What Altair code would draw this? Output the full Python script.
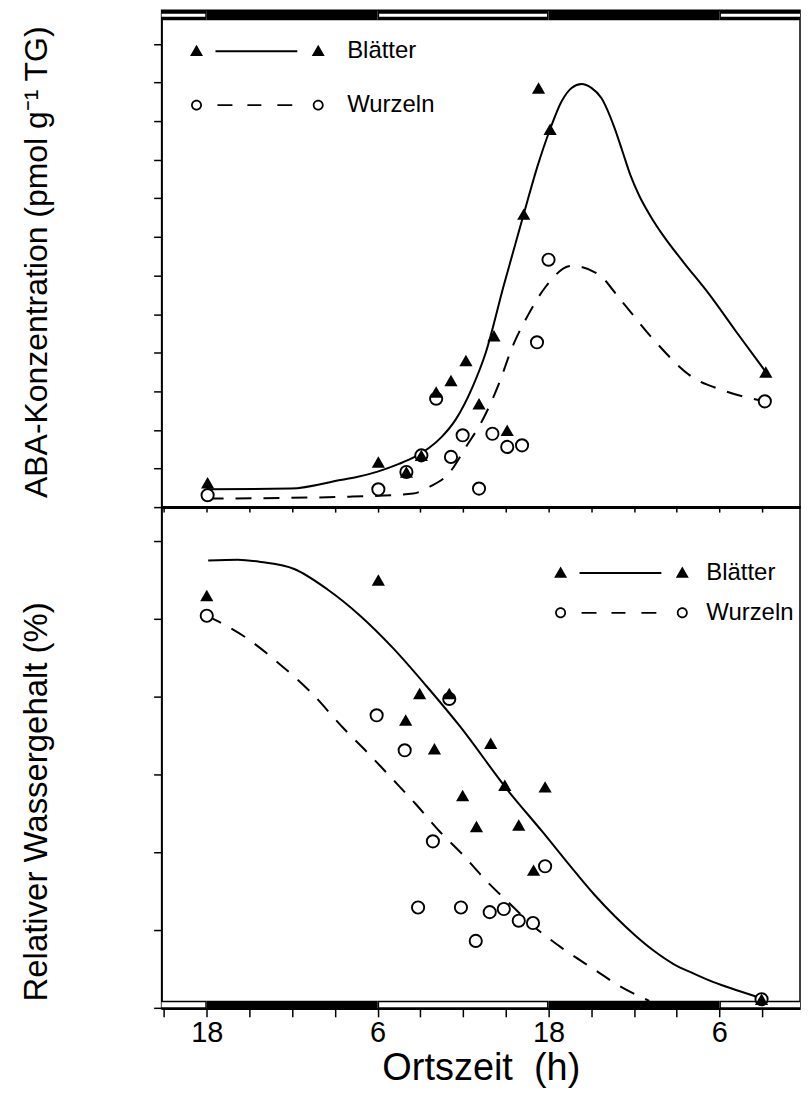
import altair as alt
import pandas as pd

FONT = "Liberation Sans"

# x = hours after 18:00 of the first evening
x_domain = [-3.17, 41.66]
x_ticks = [-3, 0, 3, 6, 9, 12, 15, 18, 21, 24, 27, 30, 33, 36, 39]
x_major = [0, 12, 24, 36]
x_major_labels = ["18", "6", "18", "6"]

period_start = [-4, 0, 12, 24, 36]
period_end = [0, 12, 24, 36, 44]
period_kind = ["Tag", "Nacht", "Tag", "Nacht", "Tag"]

series = ["Blätter", "Wurzeln"]

# ---- top panel: ABA (pmol g-1 TG) ----
aba_ticks = [0, 100, 200, 300, 400, 500, 600, 700, 800, 900, 1000, 1100, 1200]
aba_domain = [0, 1287]
aba_blatt_t = [0.06, 12.05, 14.02, 15.07, 16.11, 17.15, 18.2, 19.12, 20.17, 21.1, 22.26, 23.3, 24.11, 39.26]
aba_blatt_v = [63, 117, 91, 134, 298, 328, 380, 268, 444, 199, 759, 1086, 979, 350]
aba_wurz_t = [0.06, 12.05, 14.02, 15.07, 16.11, 17.15, 17.97, 19.12, 20.06, 21.1, 22.14, 23.19, 24.0, 39.19]
aba_wurz_v = [31, 46, 91, 134, 281, 130, 186, 48, 190, 156, 160, 427, 641, 274]
aba_fit_blatt_t = [0.06, 5.9, 9.38, 10.54, 12.0, 13.5, 14.6, 15.6, 16.5, 17.5, 18.66, 19.59,
                   20.86, 22.26, 23.19, 24.11, 24.93, 25.62, 26.32, 27.01, 27.71, 28.64,
                   29.19, 29.75, 30.38, 31.14, 32.12, 33.51, 35.25, 37.13, 39.26]
aba_fit_blatt_v = [46, 48, 70, 78, 92, 112, 130, 153, 182, 228, 311, 400,
                   575, 759, 879, 979, 1052, 1086, 1096, 1086, 1060, 982,
                   922, 860, 806, 755, 700, 633, 553, 457, 350]
aba_fit_wurz_t = [0.06, 10.05, 14.49, 15.62, 17.02, 18.2, 19.36, 20.52, 21.45, 22.6, 23.76,
                  25.62, 27.47, 29.1, 31.42, 34.09, 36.29, 39.19]
aba_fit_wurz_v = [22, 27, 35, 52, 88, 156, 225, 320, 414, 500, 569,
                  625, 604, 535, 432, 337, 302, 274]

# ---- bottom panel: relative water content (%) ----
rwc_ticks = [40, 50, 60, 70, 80, 90, 100]
rwc_domain = [39.87, 104.36]
rwc_blatt_t = [0.0, 12.05, 13.97, 14.95, 15.99, 17.03, 17.97, 18.94, 19.94, 20.93, 21.91, 22.95, 23.76, 38.96]
rwc_blatt_v = [93.0, 95.0, 77.0, 80.4, 73.3, 80.4, 67.3, 63.3, 74.0, 68.6, 63.5, 57.7, 68.4, 41.1]
rwc_wurz_t = [0.0, 11.93, 13.9, 17.03, 15.88, 14.84, 17.85, 18.89, 19.87, 20.86, 21.91, 22.91, 23.76, 38.96]
rwc_wurz_v = [90.4, 77.6, 73.1, 79.7, 61.4, 52.9, 52.9, 48.6, 52.3, 52.7, 51.2, 50.9, 58.2, 41.1]
rwc_fit_blatt_t = [0.1, 2.19, 3.81, 6.14, 8.46, 10.77, 13.1, 15.41, 17.73, 21.21, 23.54, 25.85,
                   27.24, 28.64, 30.03, 31.42, 32.81, 34.2, 35.59, 37.33, 38.84]
rwc_fit_blatt_v = [97.5, 97.6, 97.3, 96.4, 93.8, 90.4, 86.2, 81.4, 76.3, 67.8, 62.7, 57.5,
                   54.5, 51.8, 49.4, 47.3, 45.6, 44.4, 43.3, 42.2, 41.3]
rwc_fit_wurz_t = [0.0, 2.66, 4.98, 7.29, 9.62, 11.24, 13.1, 14.72, 16.34, 17.97, 19.59, 21.21,
                  23.07, 24.93, 27.24, 28.98, 31.07]
rwc_fit_wurz_v = [90.4, 87.7, 84.4, 80.6, 75.9, 72.9, 69.3, 66.1, 62.7, 59.7, 56.4, 53.5,
                  50.3, 47.7, 44.9, 42.8, 40.9]

# legend symbols (custom paths: marker - line - marker)
PATH_B = ("M-13.5,0.95L-10.9,0.95L-12.2,-1.3Z M10.9,0.95L13.5,0.95L12.2,-1.3Z "
          "M-8.4,-0.2L8.0,-0.2L8.0,0.2L-8.4,0.2Z")
PATH_W = ("M-11.1,0A1.1,1.1 0 1 1 -13.3,0A1.1,1.1 0 1 1 -11.1,0Z "
          "M-11.45,0A0.75,0.75 0 1 0 -12.95,0A0.75,0.75 0 1 0 -11.45,0Z "
          "M13.3,0A1.1,1.1 0 1 1 11.1,0A1.1,1.1 0 1 1 13.3,0Z "
          "M12.95,0A0.75,0.75 0 1 0 11.45,0A0.75,0.75 0 1 0 12.95,0Z "
          "M-8,-0.18L-5,-0.18L-5,0.18L-8,0.18Z M-2,-0.18L0.8,-0.18L0.8,0.18L-2,0.18Z "
          "M4,-0.18L7,-0.18L7,0.18L4,0.18Z")

W = 640
H_TOP = 498
H_BOT = 503

label_expr = "''"
for v, lab in reversed(list(zip(x_major, x_major_labels))):
    label_expr = f"datum.value == {v} ? '{lab}' : ({label_expr})"

periods = pd.DataFrame({"start": period_start, "end": period_end, "kind": period_kind})


def panel(bt, bv, wt, wv, fbt, fbv, fwt, fwv, yscale, yaxis, xaxis, band, leg, height):
    xs = alt.Scale(domain=x_domain, nice=False, zero=False)
    y_enc = alt.Y("v:Q", scale=yscale, axis=yaxis)
    x_enc = alt.X("t:Q", scale=xs, axis=xaxis)

    band_black = alt.Chart(periods).mark_rect(color="black", clip=True).encode(
        x=alt.X("start:Q", scale=xs, axis=xaxis), x2="end:Q",
        y=alt.value(band[0]), y2=alt.value(band[1]))
    band_white = alt.Chart(periods).transform_filter(alt.datum.kind == "Tag").mark_rect(
        color="white", clip=True, xOffset=1.5, x2Offset=-1.5).encode(
        x=alt.X("start:Q", scale=xs, axis=xaxis), x2="end:Q",
        y=alt.value(band[2]), y2=alt.value(band[3]))

    fit_b = alt.Chart(pd.DataFrame({"t": fbt, "v": fbv})).mark_line(
        color="black", strokeWidth=2, interpolate="monotone", clip=True).encode(x=x_enc, y=y_enc)
    fit_w = alt.Chart(pd.DataFrame({"t": fwt, "v": fwv})).mark_line(
        color="black", strokeWidth=2, strokeDash=[16, 12], interpolate="monotone", clip=True).encode(
        x=x_enc, y=y_enc)
    circles = alt.Chart(pd.DataFrame({"t": wt, "v": wv})).mark_point(
        shape="circle", size=150, filled=True, fill="white", stroke="black", strokeWidth=1.9,
        opacity=1).encode(x=x_enc, y=y_enc)
    tris = alt.Chart(pd.DataFrame({"t": bt, "v": bv})).mark_point(
        shape="triangle-up", size=175, filled=True, color="black", opacity=1).encode(x=x_enc, y=y_enc)

    legend = alt.Chart(pd.DataFrame({"serie": series})).mark_point(
        opacity=0, filled=True, color="black", size=100).encode(
        shape=alt.Shape("serie:N", scale=alt.Scale(domain=series, range=[PATH_B, PATH_W]),
                        legend=alt.Legend(title=None, orient="none", legendX=leg[0], legendY=leg[1],
                                          direction="vertical", symbolOpacity=1, symbolSize=100,
                                          symbolFillColor="black", symbolStrokeWidth=0,
                                          symbolOffset=0, padding=0,
                                          labelFont=FONT, labelFontSize=24, labelColor="black",
                                          labelOffset=leg[2], rowPadding=leg[3])))

    return alt.layer(band_black, band_white, fit_b, fit_w, circles, tris, legend).properties(
        width=W, height=height)


x_axis_top = alt.Axis(values=x_ticks, labels=False, tickSize=5, tickWidth=1.5, domainWidth=3,
                      title=None, grid=False)
x_axis_bot = alt.Axis(values=x_ticks, labelExpr=label_expr, tickSize=8, tickWidth=1.5,
                      domainWidth=1.5, labelFont=FONT, labelFontSize=29, labelPadding=2,
                      labelColor="black", labelFlush=False, labelOverlap=False,
                      title="Ortszeit\u00a0\u00a0(h)", titleFont=FONT, titleFontSize=38,
                      titleFontWeight="normal", titleColor="black", titlePadding=2, grid=False)

y_axis_top = alt.Axis(values=aba_ticks, labels=False, tickSize=8, tickWidth=1.5, domainWidth=1.5,
                      title="ABA-Konzentration (pmol g\u207b\u00b9 TG)", titleFont=FONT,
                      titleFontSize=32, titleFontWeight="normal", titleColor="black",
                      titleX=-108, titleY=252, grid=False)
y_axis_bot = alt.Axis(values=rwc_ticks, labels=False, tickSize=8, tickWidth=1.5, domainWidth=1.5,
                      title="Relativer Wassergehalt (%)", titleFont=FONT,
                      titleFontSize=33, titleFontWeight="normal", titleColor="black",
                      titleX=-108, titleY=295, grid=False)

top = panel(aba_blatt_t, aba_blatt_v, aba_wurz_t, aba_wurz_v,
            aba_fit_blatt_t, aba_fit_blatt_v, aba_fit_wurz_t, aba_fit_wurz_v,
            alt.Scale(domain=aba_domain, nice=False, zero=False), y_axis_top, x_axis_top,
            [0, 10, 3.5, 6.5], [84, 29, 78, 30], H_TOP)
bottom = panel(rwc_blatt_t, rwc_blatt_v, rwc_wurz_t, rwc_wurz_v,
               rwc_fit_blatt_t, rwc_fit_blatt_v, rwc_fit_wurz_t, rwc_fit_wurz_v,
               alt.Scale(domain=rwc_domain, nice=False, zero=False), y_axis_bot, x_axis_bot,
               [H_BOT - 8, H_BOT, H_BOT - 6.5, H_BOT - 1.5], [449, 54, 73, 16], H_BOT)

chart = alt.vconcat(top, bottom, spacing=0, bounds="flush").resolve_scale(
    shape="independent").resolve_legend(shape="independent").properties(
    padding={"left": 12, "top": 0, "right": 0, "bottom": 0}
).configure_view(stroke="black", strokeWidth=1.5).configure_axis(
    domainColor="black", tickColor="black")

chart.save("out.html", embed_options={"renderer": "svg", "actions": False})
